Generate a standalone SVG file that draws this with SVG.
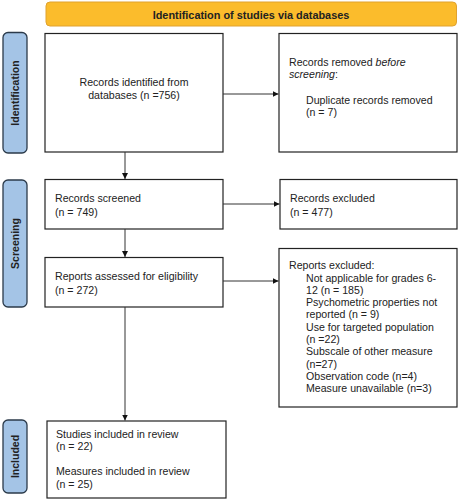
<svg xmlns="http://www.w3.org/2000/svg" width="461" height="500" viewBox="0 0 461 500">
<defs>
<style>
.box{fill:#fff;stroke:#222;stroke-width:1.2}
.side{fill:#a4c4e6;stroke:#2b3a4a;stroke-width:1.3}
.hdr{fill:#fbbc2c;stroke:#e0a22e;stroke-width:1}
text{font-family:"Liberation Sans",Arial,sans-serif;font-size:10.6px;fill:#222}
.b{font-weight:bold;font-size:10.9px}
.sl{font-weight:bold;font-size:10.5px;text-anchor:middle}
.c{stroke:#333;stroke-width:1;fill:none}
</style>
<marker id="ah" viewBox="0 0 10 10" refX="10" refY="5" markerWidth="6" markerHeight="6" orient="auto" markerUnits="userSpaceOnUse">
<path d="M0,0 L10,5 L0,10 z" fill="#111"/>
</marker>
</defs>
<g id="header">
<rect class="hdr" x="46" y="2" width="410.5" height="24" rx="4"/>
<text class="b" x="251" y="18.5" text-anchor="middle">Identification of studies via databases</text>
</g>
<g id="side-identification">
<rect class="side" x="3" y="32.5" width="24" height="120.5" rx="5"/>
<text class="sl" transform="translate(19,93) rotate(-90)">Identification</text>
</g>
<g id="side-screening">
<rect class="side" x="3" y="180" width="24" height="127" rx="5"/>
<text class="sl" transform="translate(19,243.5) rotate(-90)">Screening</text>
</g>
<g id="side-included">
<rect class="side" x="3" y="420" width="24" height="73" rx="5"/>
<text class="sl" transform="translate(19,456.5) rotate(-90)">Included</text>
</g>
<g id="records-identified">
<rect class="box" x="45" y="33.5" width="178" height="118.5"/>
<text x="134" y="86" text-anchor="middle">Records identified from</text>
<text x="134" y="98.5" text-anchor="middle">databases (n =756)</text>
</g>
<g id="records-removed">
<rect class="box" x="279" y="33.5" width="178" height="118.5"/>
<text x="289" y="66">Records removed <tspan font-style="italic">before</tspan></text>
<text x="289" y="78"><tspan font-style="italic">screening</tspan>:</text>
<text x="306" y="103.5">Duplicate records removed</text>
<text x="306" y="116">(n = 7)</text>
</g>
<g id="records-screened">
<rect class="box" x="45" y="179.5" width="178" height="49.5"/>
<text x="55" y="202">Records screened</text>
<text x="55" y="216">(n = 749)</text>
</g>
<g id="records-excluded">
<rect class="box" x="280" y="179.5" width="177" height="49.5"/>
<text x="290" y="202">Records excluded</text>
<text x="290" y="216">(n = 477)</text>
</g>
<g id="reports-assessed">
<rect class="box" x="45" y="257.5" width="178" height="49.5"/>
<text x="55" y="280">Reports assessed for eligibility</text>
<text x="55" y="294">(n = 272)</text>
</g>
<g id="reports-excluded">
<rect class="box" x="279" y="248.5" width="178" height="158.5"/>
<text x="289" y="269">Reports excluded:</text>
<text x="306" y="281.5">Not applicable for grades 6-</text>
<text x="306" y="293.8">12 (n = 185)</text>
<text x="306" y="306.1">Psychometric properties not</text>
<text x="306" y="318.4">reported (n = 9)</text>
<text x="306" y="330.7">Use for targeted population</text>
<text x="306" y="343">(n =22)</text>
<text x="306" y="355.3">Subscale of other measure</text>
<text x="306" y="367.6">(n=27)</text>
<text x="306" y="379.9">Observation code (n=4)</text>
<text x="306" y="392.2">Measure unavailable (n=3)</text>
</g>
<g id="included">
<rect class="box" x="47" y="421" width="179" height="77"/>
<text x="56" y="437.5">Studies included in review</text>
<text x="56" y="450">(n = 22)</text>
<text x="56" y="475">Measures included in review</text>
<text x="56" y="487.5">(n = 25)</text>
</g>
<g id="connectors">
<path class="c" d="M223,94 L278.5,94" marker-end="url(#ah)"/>
<path class="c" d="M125,152 L125,179" marker-end="url(#ah)"/>
<path class="c" d="M223,204 L279.5,204" marker-end="url(#ah)"/>
<path class="c" d="M125,229 L125,257" marker-end="url(#ah)"/>
<path class="c" d="M223,281 L278.5,281" marker-end="url(#ah)"/>
<path class="c" d="M125,307 L125,420.5" marker-end="url(#ah)"/>
</g>
</svg>
